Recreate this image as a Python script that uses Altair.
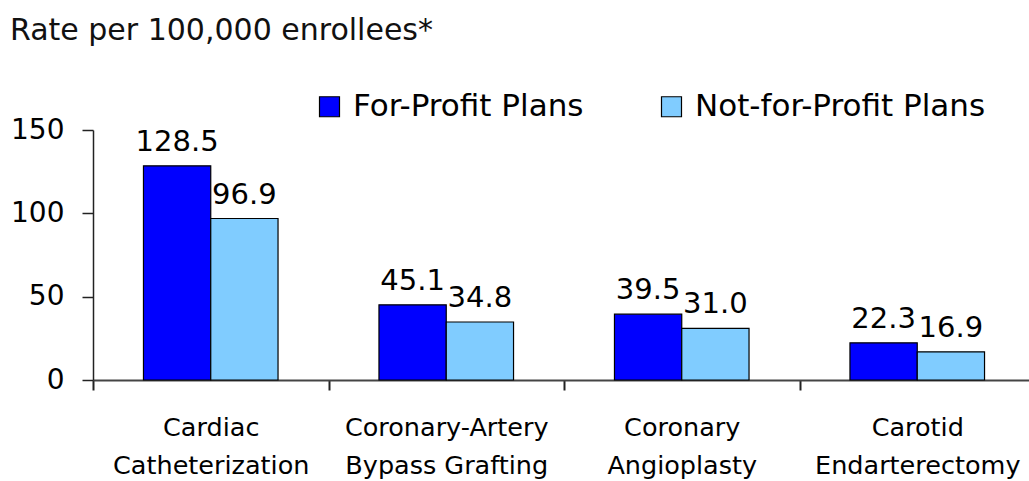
import altair as alt
import pandas as pd

categories = ["Cardiac|Catheterization", "Coronary-Artery|Bypass Grafting",
              "Coronary|Angioplasty", "Carotid|Endarterectomy"]
plans = ["For-Profit Plans", "Not-for-Profit Plans"]
for_profit = [128.5, 45.1, 39.5, 22.3]
not_for_profit = [96.9, 34.8, 31.0, 16.9]
colors = ["#0000FF", "#80CCFF"]

rows = []
for c, a, b in zip(categories, for_profit, not_for_profit):
    rows.append({"category": c, "plan": plans[0], "value": a})
    rows.append({"category": c, "plan": plans[1], "value": b})
df = pd.DataFrame(rows)

FONT = "DejaVu Sans"

base = alt.Chart(df).encode(
    x=alt.X("category:N", sort=categories,
            scale=alt.Scale(paddingInner=0, paddingOuter=0),
            axis=alt.Axis(title=None, labelAngle=0, tickBand="extent",
                          labelExpr="split(datum.label, '|')",
                          labelFont=FONT, labelFontSize=25.5, labelLineHeight=38,
                          labelColor="black", labelPadding=25, tickSize=10,
                          labelLimit=400,
                          tickColor="#222", domainColor="#444", domainWidth=2,
                          tickWidth=2)),
    xOffset=alt.XOffset("plan:N", sort=plans,
                        scale=alt.Scale(paddingInner=0, paddingOuter=0.75)),
)

bars = base.mark_bar(stroke="black", strokeWidth=1.2).encode(
    y=alt.Y("value:Q", scale=alt.Scale(domain=[0, 150], nice=False),
            axis=alt.Axis(title=None, values=[0, 50, 100, 150], grid=False,
                          tickSize=11, labelPadding=18, labelFont=FONT,
                          labelFontSize=28, labelColor="black",
                          tickColor="#222", domainColor="#222", domainWidth=1.5,
                          tickWidth=1.5)),
    color=alt.Color("plan:N", sort=plans,
                    scale=alt.Scale(domain=plans, range=colors),
                    legend=alt.Legend(orient="none", legendX=221, legendY=-39,
                                      direction="horizontal", title=None,
                                      symbolType="square", symbolSize=400,
                                      symbolStrokeColor="black",
                                      symbolStrokeWidth=1.2, symbolOpacity=1,
                                      labelFont=FONT, labelFontSize=31,
                                      labelColor="black", labelOffset=8,
                                      columnPadding=72, padding=0,
                                      labelLimit=500)),
)

labels = base.mark_text(baseline="alphabetic", dy=-15, font=FONT,
                        fontSize=29, color="black").encode(
    y=alt.Y("value:Q"),
    text=alt.Text("value:Q", format=".1f"),
)

chart = alt.layer(bars, labels).properties(
    width=942, height=250,
    title=alt.TitleParams("Rate per 100,000 enrollees*", anchor="start",
                          frame="group", dx=-83, offset=45, font=FONT,
                          fontSize=30, fontWeight="normal", color="#111"),
    autosize=alt.AutoSizeParams(type="none"),
    padding={"left": 93, "top": 130, "right": -6, "bottom": 101},
).configure_view(stroke=None)

chart.save("out.html", embed_options={"renderer": "svg", "actions": False})
